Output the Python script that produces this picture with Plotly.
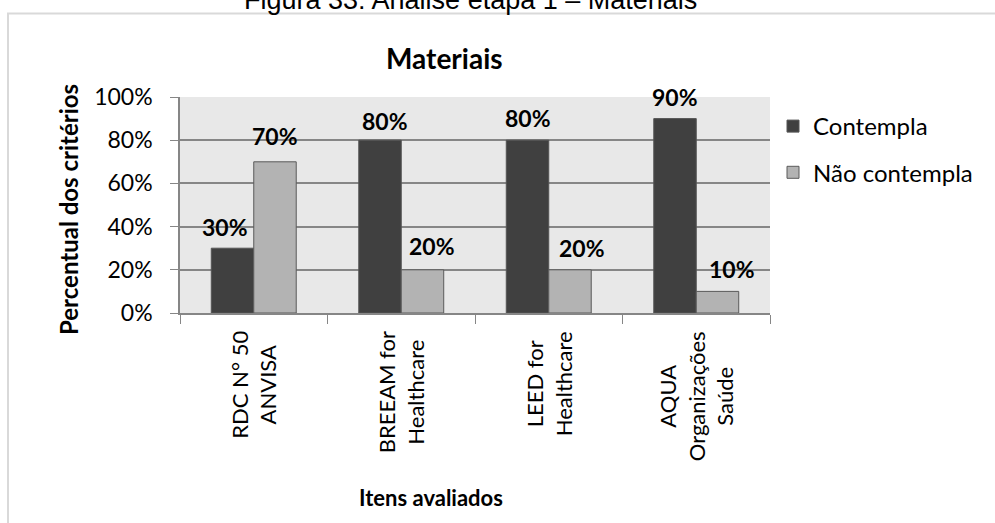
import plotly.graph_objects as go

categories = ["RDC N° 50<br>ANVISA", "BREEAM for<br>Healthcare", "LEED for<br>Healthcare", "AQUA<br>Organizações<br>Saúde"]
contempla = [0.30, 0.80, 0.80, 0.90]
nao_contempla = [0.70, 0.20, 0.20, 0.10]
series_names = ["Contempla", "Não contempla"]
y_ticks = [0, 0.2, 0.4, 0.6, 0.8, 1.0]
y_tick_labels = ["0%", "20%", "40%", "60%", "80%", "100%"]

# label nudges (px) to mimic the original hand-placed labels
dx_c = [-8, 4.5, 0, 0]
dx_n = [0, 9.7, 12.5, 15]
dy_c = [0, -2, 1, 1]
dy_n = [5, 3, 1, 1]

FONT = "Lato"
W, H = 995, 523
L, R, T, B = 180, 225, 97, 210
PW, PH = W - L - R, H - T - B


def px(x):
    return (x - L) / PW


def py(y):
    return (H - B - y) / PH


fig = go.Figure()
fig.add_trace(go.Bar(x=categories, y=contempla, name=series_names[0], legendgroup="a",
                     marker=dict(color="#404040", line=dict(color="#555555", width=1))))
fig.add_trace(go.Bar(x=categories, y=nao_contempla, name=series_names[1], legendgroup="b",
                     marker=dict(color="#b3b3b3", line=dict(color="#5a5a5a", width=1))))

ann = []
bw = PW / len(categories) * (1 - 0.424) / 2
for i, c in enumerate(categories):
    for vals, dxs, dys, sgn in ((contempla, dx_c, dy_c, -1), (nao_contempla, dx_n, dy_n, 1)):
        ann.append(dict(x=c, y=vals[i], xref="x", yref="y", text=f"<b>{round(vals[i]*100)}%</b>",
                        showarrow=False, xanchor="center", yanchor="bottom",
                        xshift=sgn * bw / 2 + dxs[i], yshift=5 + dys[i],
                        font=dict(family=FONT, size=23, color="#000000")))
    # category labels, rotated, lines centred on each other
    ann.append(dict(x=c, y=py(329), xref="x", yref="paper", text=c, textangle=-90,
                    showarrow=False, xanchor="center", yanchor="top", align="center",
                    font=dict(family=FONT, size=22, color="#000000")))

ann.append(dict(x=px(444), y=py(58), xref="paper", yref="paper", text="<b>Materiais</b>",
                showarrow=False, xanchor="center", yanchor="middle",
                font=dict(family=FONT, size=28, color="#000000")))
ann.append(dict(x=px(470), y=py(0), xref="paper", yref="paper",
                text="Figura 33: Análise etapa 1 – Materiais",
                showarrow=False, xanchor="center", yanchor="middle",
                font=dict(family="Liberation Sans", size=27, color="#000000")))
ann.append(dict(x=px(431), y=py(497), xref="paper", yref="paper", text="<b>Itens avaliados</b>",
                showarrow=False, xanchor="center", yanchor="middle",
                font=dict(family=FONT, size=22, color="#000000")))
ann.append(dict(x=px(68), y=py(210), xref="paper", yref="paper", text="<b>Percentual dos critérios</b>",
                showarrow=False, xanchor="center", yanchor="middle", textangle=-90,
                font=dict(family=FONT, size=24, color="#000000")))

shapes = [dict(type="rect", xref="paper", yref="paper",
               x0=px(8), x1=px(1010), y0=py(540), y1=py(13.5),
               line=dict(color="#d9d9d9", width=2), fillcolor="rgba(0,0,0,0)", layer="below")]

fig.update_layout(
    width=W, height=H,
    margin=dict(l=L, r=R, t=T, b=B, pad=0),
    paper_bgcolor="#ffffff",
    plot_bgcolor="#e8e8e8",
    barmode="group",
    bargap=0.424,
    bargroupgap=0,
    font=dict(family=FONT, color="#000000"),
    showlegend=True,
    legend=dict(x=px(773), y=py(104), xanchor="left", yanchor="top",
                font=dict(family=FONT, size=24, color="#000000"),
                traceorder="grouped", tracegroupgap=12, bgcolor="rgba(0,0,0,0)"),
    annotations=ann,
    shapes=shapes,
    xaxis=dict(tickson="boundaries", ticks="outside", ticklen=9, tickcolor="#868686",
               showline=True, linecolor="#868686", linewidth=1.5,
               showticklabels=False, showgrid=False, mirror=False),
    yaxis=dict(range=[0, 1], tickvals=y_ticks, ticktext=y_tick_labels, ticks="outside", ticklen=8,
               tickcolor="#868686", showline=True, linecolor="#868686", linewidth=1.5,
               gridcolor="#868686", gridwidth=1.5, zeroline=False,
               tickfont=dict(family=FONT, size=23, color="#000000"), ticklabelstandoff=13),
)

fig.write_html("out.html")
